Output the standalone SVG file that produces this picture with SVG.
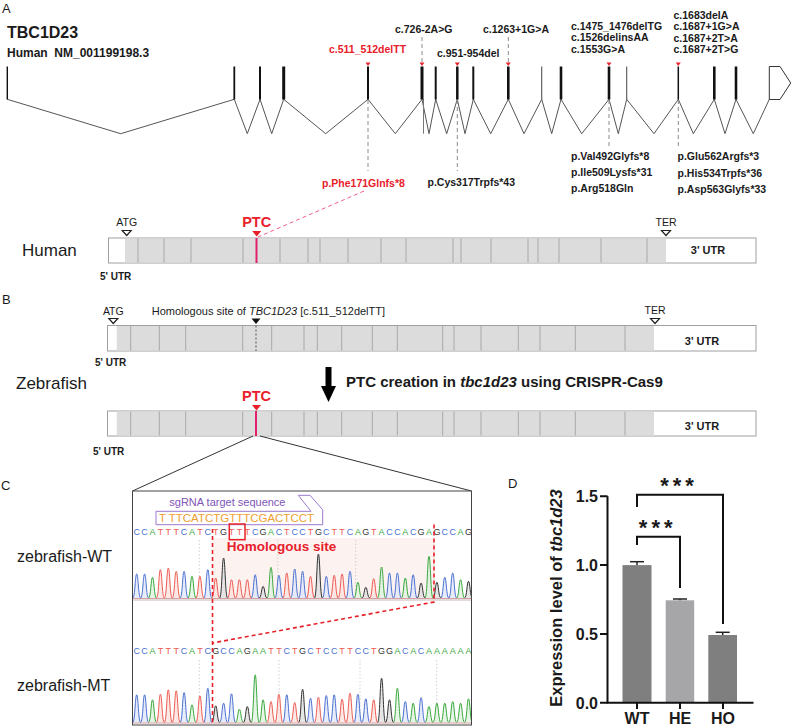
<svg xmlns="http://www.w3.org/2000/svg" width="798" height="728" viewBox="0 0 798 728">
<defs>
<style>
text{font-family:"Liberation Sans",Arial,Helvetica,sans-serif;fill:#1a1a1a}
.pl{font-size:13px}
.mut{font-size:10.5px;font-weight:bold}
.red{fill:#e8202a}
.ex{stroke:#111;fill:none}
.intron{stroke:#555;stroke-width:1;fill:none}
.gd{stroke:#8a8a8a;stroke-width:1;stroke-dasharray:4 3;fill:none}
.mk{fill:#e8202a}
.tr{fill:#fff;stroke:#a0a0a0;stroke-width:1}
.cds{fill:#dcdcdc}
.dv{stroke:#a8a8a8;stroke-width:1}
.sm{font-size:10.5px}
.utr{font-size:10px;font-weight:bold}
.utr3{font-size:11px;font-weight:bold}
.ptc{font-size:14.5px;font-weight:bold;fill:#e8202a}
.sp{font-size:17px}
.hollow{fill:#fff;stroke:#222;stroke-width:1.2}
.seq{font-size:9px;text-anchor:middle}
.sC{fill:#4a6fd0}.sA{fill:#3aa83d}.sT{fill:#ec5a52}.sG{fill:#333}
.pC{stroke:#4a6fd0;fill:#dfe6f8;fill-opacity:.75;stroke-width:1}
.pA{stroke:#3aa83d;fill:#def2de;fill-opacity:.75;stroke-width:1}
.pT{stroke:#ec5a52;fill:#fbe1de;fill-opacity:.75;stroke-width:1}
.pG{stroke:#333;fill:#dedede;fill-opacity:.75;stroke-width:1}
.rd{stroke:#e8202a;stroke-width:1.6;stroke-dasharray:4 3;fill:none}
.dot{stroke:#c4c4c4;stroke-width:.8;stroke-dasharray:1.5 2}
.ax{stroke:#111;stroke-width:2;fill:none}
.tk{font-size:16px;font-weight:bold}
</style>
<clipPath id="boxclip"><rect x="133" y="491" width="338" height="234"/></clipPath>
</defs>

<!-- panel labels -->
<g id="panel-labels">
<text class="pl" x="2" y="13">A</text>
<text class="pl" x="2" y="304">B</text>
<text class="pl" x="1" y="490">C</text>
<text class="pl" x="508" y="488">D</text>
</g>

<!-- Panel A gene structure -->
<g id="gene-title">
<text x="7" y="38" style="font-size:16px;font-weight:bold">TBC1D23</text>
<text x="7" y="57" style="font-size:12px;font-weight:bold">Human&#160; NM_001199198.3</text>
</g>

<g id="gene-structure">
<path class="intron" d="M7.3,99.3 L120.7,133.7 L234.3,99.3 L247.3,133.7 L260,99.3 L271.7,133.7 L283.7,99.3 L325.7,133.7 L368,99.3 L395.3,133.7 L422,99.3 L429,133.7 L435.7,99.3 L446.7,133.7 L457.3,99.3 L465,133.7 L473.3,99.3 L490.7,133.7 L508.3,99.3 L524,133.7 L541.7,99.3 L551.7,133.7 L561,99.3 L581.7,133.7 L609,99.3 L618.3,133.7 L626.7,99.3 L654,133.7 L678.3,99.3 L693.3,133.7 L714.3,99.3 L725,133.7 L736,99.3 L753.3,133.7 L769.3,99.3"/>
<line x1="423.5" y1="99" x2="423.5" y2="133.7" stroke="#777" stroke-width="1"/>
<g class="ex">
<line x1="7.3" y1="66.5" x2="7.3" y2="99.5" stroke-width="1.4"/>
<line x1="234.3" y1="66.5" x2="234.3" y2="99.5" stroke-width="1.8"/>
<line x1="260" y1="66.5" x2="260" y2="99.5" stroke-width="2"/>
<line x1="283.7" y1="66.5" x2="283.7" y2="99.5" stroke-width="3"/>
<line x1="368" y1="66.5" x2="368" y2="99.5" stroke-width="2"/>
<line x1="422" y1="66.5" x2="422" y2="99.5" stroke-width="3"/>
<line x1="435.7" y1="66.5" x2="435.7" y2="99.5" stroke-width="2"/>
<line x1="457.3" y1="66.5" x2="457.3" y2="99.5" stroke-width="2.5"/>
<line x1="473.3" y1="66.5" x2="473.3" y2="99.5" stroke-width="2"/>
<line x1="508.3" y1="66.5" x2="508.3" y2="99.5" stroke-width="2.6"/>
<line x1="541.7" y1="66.5" x2="541.7" y2="99.5" stroke-width="1.1" stroke="#555"/>
<line x1="561" y1="66.5" x2="561" y2="99.5" stroke-width="2.6"/>
<line x1="609" y1="66.5" x2="609" y2="99.5" stroke-width="2.6"/>
<line x1="626.7" y1="66.5" x2="626.7" y2="99.5" stroke-width="1.1" stroke="#555"/>
<line x1="678.3" y1="66.5" x2="678.3" y2="99.5" stroke-width="1.5"/>
<line x1="714.3" y1="66.5" x2="714.3" y2="99.5" stroke-width="2.6"/>
<line x1="736" y1="66.5" x2="736" y2="99.5" stroke-width="2.6"/>
</g>
<path d="M769.3,66.5 H780 L790.7,83 L780,99.5 H769.3 Z" fill="#fff" stroke="#333" stroke-width="1"/>
<g id="mut-markers">
<polygon class="mk" points="365.5,62.5 370.5,62.5 368,66"/>
<polygon class="mk" points="419.5,62.5 424.5,62.5 422,66"/>
<polygon class="mk" points="454.8,62.5 459.8,62.5 457.3,66"/>
<polygon class="mk" points="505.8,62.5 510.8,62.5 508.3,66"/>
<polygon class="mk" points="606.5,62.5 611.5,62.5 609,66"/>
<polygon class="mk" points="675.8,62.5 680.8,62.5 678.3,66"/>
</g>
</g>

<g id="mutation-labels">
<text class="mut red" x="329" y="53">c.511_512delTT</text>
<text class="mut" x="395" y="33">c.726-2A&gt;G</text>
<text class="mut" x="437" y="57">c.951-954del</text>
<text class="mut" x="483" y="33">c.1263+1G&gt;A</text>
<text class="mut" x="571" y="29.5">c.1475_1476delTG</text>
<text class="mut" x="571" y="41">c.1526delinsAA</text>
<text class="mut" x="571" y="52.5">c.1553G&gt;A</text>
<text class="mut" x="673.5" y="18.5">c.1683delA</text>
<text class="mut" x="673.5" y="30">c.1687+1G&gt;A</text>
<text class="mut" x="673.5" y="41.5">c.1687+2T&gt;A</text>
<text class="mut" x="673.5" y="53">c.1687+2T&gt;G</text>
<text class="mut red" x="322" y="187">p.Phe171Glnfs*8</text>
<text class="mut" x="427.5" y="186">p.Cys317Trpfs*43</text>
<text class="mut" x="571" y="160">p.Val492Glyfs*8</text>
<text class="mut" x="571" y="176">p.Ile509Lysfs*31</text>
<text class="mut" x="571" y="192">p.Arg518Gln</text>
<text class="mut" x="677.5" y="160">p.Glu562Argfs*3</text>
<text class="mut" x="677.5" y="176.5">p.His534Trpfs*36</text>
<text class="mut" x="677.5" y="193">p.Asp563Glyfs*33</text>
</g>

<!-- Human transcript -->
<g id="human-transcript">
<text class="sp" x="22" y="256">Human</text>
<rect class="tr" x="108.5" y="238" width="647.5" height="25"/>
<rect class="cds" x="125" y="238.5" width="541" height="24"/>
<g class="dv">
<line x1="138" y1="238.5" x2="138" y2="262.5"/><line x1="164" y1="238.5" x2="164" y2="262.5"/>
<line x1="191" y1="238.5" x2="191" y2="262.5"/><line x1="243" y1="238.5" x2="243" y2="262.5"/>
<line x1="280" y1="238.5" x2="280" y2="262.5"/><line x1="308" y1="238.5" x2="308" y2="262.5"/>
<line x1="320" y1="238.5" x2="320" y2="262.5"/><line x1="348" y1="238.5" x2="348" y2="262.5"/>
<line x1="381" y1="238.5" x2="381" y2="262.5"/><line x1="406" y1="238.5" x2="406" y2="262.5"/>
<line x1="453" y1="238.5" x2="453" y2="262.5"/><line x1="461" y1="238.5" x2="461" y2="262.5"/>
<line x1="491" y1="238.5" x2="491" y2="262.5"/><line x1="528" y1="238.5" x2="528" y2="262.5"/>
<line x1="538" y1="238.5" x2="538" y2="262.5"/><line x1="559" y1="238.5" x2="559" y2="262.5"/>
<line x1="601" y1="238.5" x2="601" y2="262.5"/><line x1="647" y1="238.5" x2="647" y2="262.5"/>
</g>
<line x1="256.5" y1="238" x2="256.5" y2="263" stroke="#e0206a" stroke-width="2"/>
<text class="sm" x="126.7" y="225.5" text-anchor="middle">ATG</text>
<polygon class="hollow" points="122.2,230.5 131.2,230.5 126.7,235.5"/>
<text class="ptc" x="256.7" y="226.5" text-anchor="middle">PTC</text>
<polygon points="252.2,231 261.2,231 256.7,236.5" fill="#e8202a"/>
<text class="sm" x="666" y="225.5" text-anchor="middle">TER</text>
<polygon class="hollow" points="661.5,230.5 670.5,230.5 666,235.5"/>
<text class="utr3" x="708" y="254" text-anchor="middle">3' UTR</text>
<text class="utr" x="100" y="280">5' UTR</text>
</g>

<!-- Zebrafish transcripts -->
<g id="zebrafish-wt-transcript">
<rect class="tr" x="107.5" y="325.5" width="648.5" height="25.5"/>
<rect class="cds" x="116.7" y="326" width="537.3" height="24.5"/>
<g class="dv">
<line x1="130.7" y1="326" x2="130.7" y2="350.5"/><line x1="159.3" y1="326" x2="159.3" y2="350.5"/>
<line x1="185.7" y1="326" x2="185.7" y2="350.5"/><line x1="242.7" y1="326" x2="242.7" y2="350.5"/>
<line x1="271.7" y1="326" x2="271.7" y2="350.5"/><line x1="304" y1="326" x2="304" y2="350.5"/>
<line x1="317.3" y1="326" x2="317.3" y2="350.5"/><line x1="341.7" y1="326" x2="341.7" y2="350.5"/>
<line x1="372.3" y1="326" x2="372.3" y2="350.5"/><line x1="397.3" y1="326" x2="397.3" y2="350.5"/>
<line x1="442.7" y1="326" x2="442.7" y2="350.5"/><line x1="454" y1="326" x2="454" y2="350.5"/>
<line x1="481" y1="326" x2="481" y2="350.5"/><line x1="518.3" y1="326" x2="518.3" y2="350.5"/>
<line x1="540" y1="326" x2="540" y2="350.5"/><line x1="575.3" y1="326" x2="575.3" y2="350.5"/>
<line x1="625" y1="326" x2="625" y2="350.5"/>
</g>
<line x1="256" y1="325.5" x2="256" y2="351" stroke="#666" stroke-width="1.2" stroke-dasharray="2 2"/>
<text class="sm" x="113.3" y="315" text-anchor="middle">ATG</text>
<polygon class="hollow" points="108.8,318.5 117.8,318.5 113.3,323.5"/>
<text x="151.7" y="315" style="font-size:11px">Homologous site of <tspan font-style="italic">TBC1D23</tspan> [c.511_512delTT]</text>
<polygon points="251.5,318.5 260.5,318.5 256,324" fill="#111"/>
<text class="sm" x="655" y="313.5" text-anchor="middle">TER</text>
<polygon class="hollow" points="650.5,318.5 659.5,318.5 655,323.5"/>
<text class="utr3" x="702" y="345" text-anchor="middle">3' UTR</text>
<text class="utr" x="95" y="366">5' UTR</text>
<text class="sp" x="16" y="389">Zebrafish</text>
</g>

<g id="crispr-step">
<polygon points="325.5,367 331.5,367 331.5,386 336,386 328.5,402 321,386 325.5,386" fill="#000"/>
<text x="346" y="387" style="font-size:15px;font-weight:bold">PTC creation in <tspan font-style="italic">tbc1d23</tspan> using CRISPR-Cas9</text>
</g>

<g id="zebrafish-mt-transcript">
<rect class="tr" x="107.5" y="411" width="648.5" height="25"/>
<rect class="cds" x="116.7" y="411.5" width="537.3" height="24"/>
<g class="dv">
<line x1="130.7" y1="411.5" x2="130.7" y2="435.5"/><line x1="159.3" y1="411.5" x2="159.3" y2="435.5"/>
<line x1="185.7" y1="411.5" x2="185.7" y2="435.5"/><line x1="242.7" y1="411.5" x2="242.7" y2="435.5"/>
<line x1="271.7" y1="411.5" x2="271.7" y2="435.5"/><line x1="304" y1="411.5" x2="304" y2="435.5"/>
<line x1="317.3" y1="411.5" x2="317.3" y2="435.5"/><line x1="341.7" y1="411.5" x2="341.7" y2="435.5"/>
<line x1="372.3" y1="411.5" x2="372.3" y2="435.5"/><line x1="397.3" y1="411.5" x2="397.3" y2="435.5"/>
<line x1="442.7" y1="411.5" x2="442.7" y2="435.5"/><line x1="454" y1="411.5" x2="454" y2="435.5"/>
<line x1="481" y1="411.5" x2="481" y2="435.5"/><line x1="518.3" y1="411.5" x2="518.3" y2="435.5"/>
<line x1="540" y1="411.5" x2="540" y2="435.5"/><line x1="575.3" y1="411.5" x2="575.3" y2="435.5"/>
<line x1="625" y1="411.5" x2="625" y2="435.5"/>
</g>
<line x1="256" y1="411" x2="256" y2="436" stroke="#e0206a" stroke-width="2"/>
<text class="ptc" x="256.5" y="401" text-anchor="middle">PTC</text>
<polygon points="252,405 261,405 256.5,410.5" fill="#e8202a"/>
<text class="utr3" x="702" y="430" text-anchor="middle">3' UTR</text>
<text class="utr" x="93" y="455">5' UTR</text>
</g>

<!-- connectors -->
<g id="connectors">
<line class="gd" x1="368" y1="100" x2="368" y2="171"/>
<line class="gd" x1="422" y1="37" x2="422" y2="63"/>
<line class="gd" x1="457.3" y1="100" x2="457.3" y2="171"/>
<line class="gd" x1="508.3" y1="37" x2="508.3" y2="63"/>
<line class="gd" x1="609" y1="100" x2="609" y2="147"/>
<line class="gd" x1="678.3" y1="100" x2="678.3" y2="147"/>
<line x1="364" y1="191" x2="258" y2="237" stroke="#f06090" stroke-width="1" stroke-dasharray="4 3"/>
<line x1="253" y1="436" x2="132.5" y2="491" stroke="#333" stroke-width="1"/>
<line x1="260" y1="436" x2="471.5" y2="491" stroke="#333" stroke-width="1"/>
</g>

<!-- Panel C chromatogram -->
<g id="chromatogram">
<rect x="132.5" y="491" width="339" height="234" fill="#fff" stroke="#444" stroke-width="1"/>
<rect x="213" y="538" width="221" height="60" fill="#fcf3f1"/>
<line x1="133" y1="600" x2="471" y2="600" stroke="#c8b8b8" stroke-width="1"/>
<text x="169.3" y="505.5" style="font-size:11px;fill:#8055b8">sgRNA target sequence</text>
<path d="M156,524.7 V511.3 H311 L298.3,495.3 H310 L322.7,509.7 V524.7 Z" fill="none" stroke="#9a78d0" stroke-width="1"/>
<text x="159" y="521.5" textLength="155" lengthAdjust="spacing" style="font-size:11.5px;fill:#f0a030">T TTCATCTGTTTCGACTCCT</text>
<g clip-path="url(#boxclip)">
<g class="dot">
<line x1="199.3" y1="540" x2="199.3" y2="598"/><line x1="277.7" y1="540" x2="277.7" y2="598"/>
<line x1="355.7" y1="540" x2="355.7" y2="598"/><line x1="434" y1="540" x2="434" y2="598"/>
<line x1="199.3" y1="660" x2="199.3" y2="721"/><line x1="279" y1="660" x2="279" y2="721"/>
<line x1="360" y1="660" x2="360" y2="721"/><line x1="436.7" y1="660" x2="436.7" y2="721"/>
</g>
<!-- WT sequence -->
<text class="seq" y="535.3" x="136.7 144.6 152.5 160.4 168.3 176.2 184.1 192.0 199.9 207.8 215.7 223.6 231.5 239.4 247.3 255.2 263.1 271.0 278.9 286.8 294.7 302.6 310.5 318.4 326.3 334.2 342.1 350.0 357.9 365.8 373.7 381.6 389.5 397.4 405.3 413.2 421.1 429.0 436.9 444.8 452.7 460.6 468.5"><tspan class="sC">CC</tspan><tspan class="sA">A</tspan><tspan class="sT">TTT</tspan><tspan class="sC">C</tspan><tspan class="sA">A</tspan><tspan class="sT">T</tspan><tspan class="sC">C</tspan><tspan class="sT">T</tspan><tspan class="sG">G</tspan><tspan class="sT">TTT</tspan><tspan class="sC">C</tspan><tspan class="sG">G</tspan><tspan class="sA">A</tspan><tspan class="sC">C</tspan><tspan class="sT">T</tspan><tspan class="sC">CC</tspan><tspan class="sT">T</tspan><tspan class="sG">G</tspan><tspan class="sC">C</tspan><tspan class="sT">TT</tspan><tspan class="sC">C</tspan><tspan class="sA">A</tspan><tspan class="sG">G</tspan><tspan class="sT">T</tspan><tspan class="sA">A</tspan><tspan class="sC">CC</tspan><tspan class="sA">A</tspan><tspan class="sC">C</tspan><tspan class="sG">G</tspan><tspan class="sA">A</tspan><tspan class="sG">G</tspan><tspan class="sC">CC</tspan><tspan class="sA">A</tspan><tspan class="sG">G</tspan></text>
<!-- WT peaks -->
<path class="pC" d="M132.7,598c2.4,0 2.4,-24 4,-24s1.6,24 4,24M140.6,598c2.4,0 2.4,-24 4,-24s1.6,24 4,24M180.1,598c2.4,0 2.4,-26.7 4,-26.7s1.6,26.7 4,26.7M203.8,598c2.4,0 2.4,-28.3 4,-28.3s1.6,28.3 4,28.3M251.2,598c2.4,0 2.4,-23.3 4,-23.3s1.6,23.3 4,23.3M274.9,598c2.4,0 2.4,-22.7 4,-22.7s1.6,22.7 4,22.7M290.7,598c2.4,0 2.4,-29 4,-29s1.6,29 4,29M298.6,598c2.4,0 2.4,-26.7 4,-26.7s1.6,26.7 4,26.7M322.3,598c2.4,0 2.4,-21.7 4,-21.7s1.6,21.7 4,21.7M346,598c2.4,0 2.4,-26.7 4,-26.7s1.6,26.7 4,26.7M385.5,598c2.4,0 2.4,-25 4,-25s1.6,25 4,25M393.4,598c2.4,0 2.4,-25 4,-25s1.6,25 4,25M409.2,598c2.4,0 2.4,-23.3 4,-23.3s1.6,23.3 4,23.3M440.8,598c2.4,0 2.4,-20.7 4,-20.7s1.6,20.7 4,20.7M448.7,598c2.4,0 2.4,-25 4,-25s1.6,25 4,25"/>
<path class="pA" d="M148.5,598c2.4,0 2.4,-20.7 4,-20.7s1.6,20.7 4,20.7M188,598c2.4,0 2.4,-21.7 4,-21.7s1.6,21.7 4,21.7M267,598c2.4,0 2.4,-30.7 4,-30.7s1.6,30.7 4,30.7M353.9,598c2.4,0 2.4,-15.7 4,-15.7s1.6,15.7 4,15.7M377.6,598c2.4,0 2.4,-31 4,-31s1.6,31 4,31M401.3,598c2.4,0 2.4,-20 4,-20s1.6,20 4,20M425,598c2.4,0 2.4,-41.7 4,-41.7s1.6,41.7 4,41.7M456.6,598c2.4,0 2.4,-18.3 4,-18.3s1.6,18.3 4,18.3"/>
<path class="pT" d="M156.4,598c2.4,0 2.4,-28.3 4,-28.3s1.6,28.3 4,28.3M164.3,598c2.4,0 2.4,-30 4,-30s1.6,30 4,30M172.2,598c2.4,0 2.4,-26.7 4,-26.7s1.6,26.7 4,26.7M195.9,598c2.4,0 2.4,-21.7 4,-21.7s1.6,21.7 4,21.7M211.7,598c2.4,0 2.4,-20 4,-20s1.6,20 4,20M227.5,598c2.4,0 2.4,-18.3 4,-18.3s1.6,18.3 4,18.3M235.4,598c2.4,0 2.4,-18.3 4,-18.3s1.6,18.3 4,18.3M243.3,598c2.4,0 2.4,-18.3 4,-18.3s1.6,18.3 4,18.3M282.8,598c2.4,0 2.4,-25 4,-25s1.6,25 4,25M306.5,598c2.4,0 2.4,-21.7 4,-21.7s1.6,21.7 4,21.7M330.2,598c2.4,0 2.4,-22.7 4,-22.7s1.6,22.7 4,22.7M338.1,598c2.4,0 2.4,-24 4,-24s1.6,24 4,24M369.7,598c2.4,0 2.4,-19.3 4,-19.3s1.6,19.3 4,19.3"/>
<path class="pG" d="M219.6,598c2.4,0 2.4,-40 4,-40s1.6,40 4,40M259.1,598c2.4,0 2.4,-11.7 4,-11.7s1.6,11.7 4,11.7M314.4,598c2.4,0 2.4,-44 4,-44s1.6,44 4,44M361.8,598c2.4,0 2.4,-10.7 4,-10.7s1.6,10.7 4,10.7M417.1,598c2.4,0 2.4,-15 4,-15s1.6,15 4,15M432.9,598c2.4,0 2.4,-15.7 4,-15.7s1.6,15.7 4,15.7M464.5,598c2.4,0 2.4,-16.7 4,-16.7s1.6,16.7 4,16.7"/>
<!-- MT sequence -->
<text class="seq" y="654.3" x="136.7 144.6 152.5 160.4 168.3 176.2 184.1 192.0 199.9 207.8 215.7 223.6 231.5 239.4 247.3 255.2 263.1 271.0 278.9 286.8 294.7 302.6 310.5 318.4 326.3 334.2 342.1 350.0 357.9 365.8 373.7 381.6 389.5 397.4 405.3 413.2 421.1 429.0 436.9 444.8 452.7 460.6 468.5"><tspan class="sC">CC</tspan><tspan class="sA">A</tspan><tspan class="sT">TTT</tspan><tspan class="sC">C</tspan><tspan class="sA">A</tspan><tspan class="sT">T</tspan><tspan class="sC">C</tspan><tspan class="sG">G</tspan><tspan class="sC">CC</tspan><tspan class="sA">A</tspan><tspan class="sG">G</tspan><tspan class="sA">AA</tspan><tspan class="sT">TT</tspan><tspan class="sC">C</tspan><tspan class="sT">T</tspan><tspan class="sG">G</tspan><tspan class="sC">C</tspan><tspan class="sT">T</tspan><tspan class="sC">CC</tspan><tspan class="sT">TT</tspan><tspan class="sC">CC</tspan><tspan class="sT">T</tspan><tspan class="sG">GG</tspan><tspan class="sA">A</tspan><tspan class="sC">C</tspan><tspan class="sA">A</tspan><tspan class="sC">C</tspan><tspan class="sA">AAAAAA</tspan></text>
<!-- MT peaks -->
<path class="pC" d="M132.7,722.5c2.4,0 2.4,-27.7 4,-27.7s1.6,27.7 4,27.7M140.6,722.5c2.4,0 2.4,-27.7 4,-27.7s1.6,27.7 4,27.7M180.1,722.5c2.4,0 2.4,-30 4,-30s1.6,30 4,30M203.8,722.5c2.4,0 2.4,-34.3 4,-34.3s1.6,34.3 4,34.3M219.6,722.5c2.4,0 2.4,-19.3 4,-19.3s1.6,19.3 4,19.3M227.5,722.5c2.4,0 2.4,-28.7 4,-28.7s1.6,28.7 4,28.7M282.8,722.5c2.4,0 2.4,-27.7 4,-27.7s1.6,27.7 4,27.7M306.5,722.5c2.4,0 2.4,-24.3 4,-24.3s1.6,24.3 4,24.3M322.3,722.5c2.4,0 2.4,-27 4,-27s1.6,27 4,27M330.2,722.5c2.4,0 2.4,-27.7 4,-27.7s1.6,27.7 4,27.7M353.9,722.5c2.4,0 2.4,-28.3 4,-28.3s1.6,28.3 4,28.3M361.8,722.5c2.4,0 2.4,-23.7 4,-23.7s1.6,23.7 4,23.7M401.3,722.5c2.4,0 2.4,-21 4,-21s1.6,21 4,21M417.1,722.5c2.4,0 2.4,-25 4,-25s1.6,25 4,25"/>
<path class="pA" d="M148.5,722.5c2.4,0 2.4,-22.7 4,-22.7s1.6,22.7 4,22.7M188,722.5c2.4,0 2.4,-17.7 4,-17.7s1.6,17.7 4,17.7M235.4,722.5c2.4,0 2.4,-13.3 4,-13.3s1.6,13.3 4,13.3M251.2,722.5c2.4,0 2.4,-47.7 4,-47.7s1.6,47.7 4,47.7M259.1,722.5c2.4,0 2.4,-22.7 4,-22.7s1.6,22.7 4,22.7M393.4,722.5c2.4,0 2.4,-34.3 4,-34.3s1.6,34.3 4,34.3M409.2,722.5c2.4,0 2.4,-19.3 4,-19.3s1.6,19.3 4,19.3M425,722.5c2.4,0 2.4,-16 4,-16s1.6,16 4,16M432.9,722.5c2.4,0 2.4,-19.3 4,-19.3s1.6,19.3 4,19.3M440.8,722.5c2.4,0 2.4,-19.3 4,-19.3s1.6,19.3 4,19.3M448.7,722.5c2.4,0 2.4,-21 4,-21s1.6,21 4,21M456.6,722.5c2.4,0 2.4,-19.3 4,-19.3s1.6,19.3 4,19.3M464.5,722.5c2.4,0 2.4,-23.7 4,-23.7s1.6,23.7 4,23.7"/>
<path class="pT" d="M156.4,722.5c2.4,0 2.4,-28.3 4,-28.3s1.6,28.3 4,28.3M164.3,722.5c2.4,0 2.4,-32.7 4,-32.7s1.6,32.7 4,32.7M172.2,722.5c2.4,0 2.4,-31.7 4,-31.7s1.6,31.7 4,31.7M195.9,722.5c2.4,0 2.4,-26.7 4,-26.7s1.6,26.7 4,26.7M267,722.5c2.4,0 2.4,-21 4,-21s1.6,21 4,21M274.9,722.5c2.4,0 2.4,-28.3 4,-28.3s1.6,28.3 4,28.3M290.7,722.5c2.4,0 2.4,-20 4,-20s1.6,20 4,20M314.4,722.5c2.4,0 2.4,-25.3 4,-25.3s1.6,25.3 4,25.3M338.1,722.5c2.4,0 2.4,-23.3 4,-23.3s1.6,23.3 4,23.3M346,722.5c2.4,0 2.4,-29.3 4,-29.3s1.6,29.3 4,29.3M369.7,722.5c2.4,0 2.4,-22.7 4,-22.7s1.6,22.7 4,22.7"/>
<path class="pG" d="M211.7,722.5c2.4,0 2.4,-16.7 4,-16.7s1.6,16.7 4,16.7M243.3,722.5c2.4,0 2.4,-16 4,-16s1.6,16 4,16M298.6,722.5c2.4,0 2.4,-33.3 4,-33.3s1.6,33.3 4,33.3M377.6,722.5c2.4,0 2.4,-44.3 4,-44.3s1.6,44.3 4,44.3M385.5,722.5c2.4,0 2.4,-22.7 4,-22.7s1.6,22.7 4,22.7"/>
<line x1="133" y1="598.5" x2="471" y2="598.5" stroke="#c88" stroke-width=".8"/>
<line x1="133" y1="723" x2="471" y2="723" stroke="#c88" stroke-width=".8"/>
</g>
<rect x="229.3" y="524" width="15.7" height="15.7" fill="none" stroke="#e8202a" stroke-width="1.5"/>
<text x="226.7" y="551.3" style="font-size:13.5px;font-weight:bold;fill:#e8202a">Homologous site</text>
<path class="rd" d="M212.5,529 V723"/>
<path class="rd" d="M434,524.5 V602 L212.5,643"/>
<text class="sp" x="17" y="562" style="font-size:16px">zebrafish-WT</text>
<text class="sp" x="17" y="691" style="font-size:16px">zebrafish-MT</text>
</g>

<!-- Panel D bar chart -->
<g id="bar-chart">
<rect x="622.5" y="565.1" width="29" height="137.6" fill="#7f7f7f"/>
<rect x="665.7" y="600.3" width="28.5" height="102.4" fill="#a6a6a8"/>
<rect x="708.3" y="635" width="28.7" height="67.7" fill="#7f7f7f"/>
<g stroke="#222" stroke-width="1.5">
<line x1="637" y1="565" x2="637" y2="561.7"/><line x1="630" y1="561.7" x2="644" y2="561.7"/>
<line x1="680" y1="600.3" x2="680" y2="599"/><line x1="673" y1="599" x2="687" y2="599"/>
<line x1="722.7" y1="635" x2="722.7" y2="632.3"/><line x1="715.7" y1="632.3" x2="729.7" y2="632.3"/>
</g>
<path class="ax" d="M607.5,496.3 V702.7 M606.5,702.7 H753.5"/>
<path class="ax" d="M600,496.3 H607.5 M600,565.1 H607.5 M600,633.9 H607.5 M600,702.7 H607.5 M637,702.7 V709 M680,702.7 V709 M723,702.7 V709"/>
<text class="tk" x="598" y="502" text-anchor="end">1.5</text>
<text class="tk" x="598" y="571" text-anchor="end">1.0</text>
<text class="tk" x="598" y="639.5" text-anchor="end">0.5</text>
<text class="tk" x="598" y="708.5" text-anchor="end">0.0</text>
<text class="tk" x="637" y="724" text-anchor="middle">WT</text>
<text class="tk" x="680" y="724" text-anchor="middle">HE</text>
<text class="tk" x="723" y="724" text-anchor="middle">HO</text>
<text transform="translate(561.5,598) rotate(-90)" text-anchor="middle" style="font-size:16.5px;font-weight:bold">Expression level of <tspan font-style="italic">tbc1d23</tspan></text>
<path class="ax" d="M637,507 V494.7 H723 V624"/>
<path class="ax" d="M637,545 V536.7 H680 V588"/>
<text x="679" y="493" text-anchor="middle" style="font-size:22px;font-weight:bold;letter-spacing:4px">***</text>
<text x="657.7" y="535" text-anchor="middle" style="font-size:22px;font-weight:bold;letter-spacing:4px">***</text>
</g>
</svg>
